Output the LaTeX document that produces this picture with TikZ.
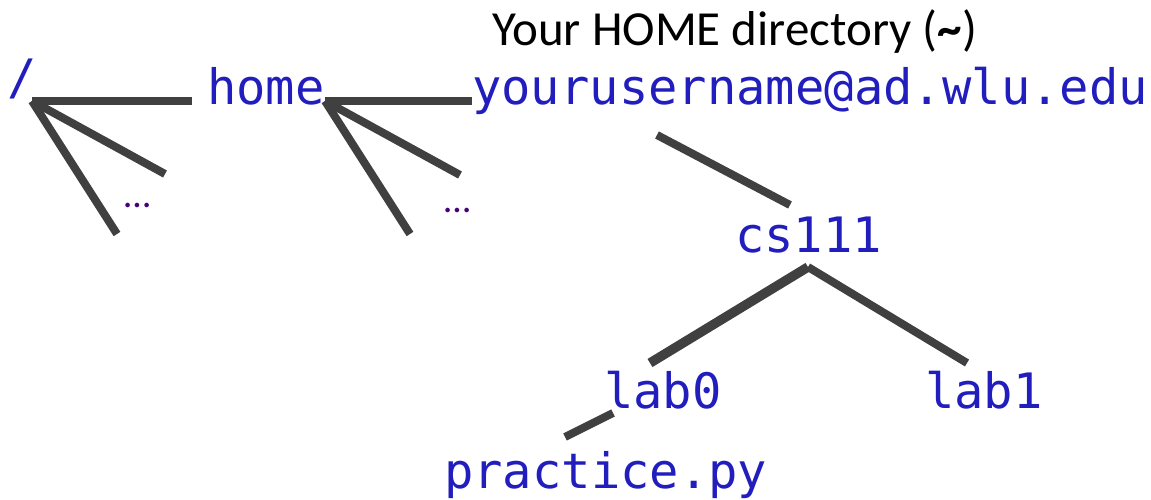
\documentclass[tikz,border=0pt]{standalone}
\usepackage{fontspec}
\setmonofont{DejaVu Sans Mono}
\newfontfamily\calib{Carlito}
\definecolor{txtblue}{RGB}{34,30,190}
\definecolor{dotpurple}{RGB}{70,0,120}
\definecolor{linegray}{RGB}{64,64,64}
\tikzset{
  dirname/.style={inner sep=0pt, anchor=base west, text=txtblue, font=\ttfamily\fontsize{48.8}{58}\selectfont},
  dots/.style={inner sep=0pt, anchor=base west, text=dotpurple, font=\calib\fontsize{38}{44}\selectfont},
  caption/.style={inner sep=0pt, anchor=base west, text=black, font=\calib\fontsize{49}{58}\selectfont},
  branch/.style={draw=linegray, line width=8pt},
  branchthick/.style={draw=linegray, line width=9.5pt}
}
\begin{document}
\begin{tikzpicture}[x=1pt,y=-1pt]
\useasboundingbox (0,0) rectangle (1151,500);
% texts
\node[dirname] (root) at (7,95) {/};
\node[dirname] (home) at (207,105) {home};
\node[dirname] (user) at (472,105) {yourusername@ad.wlu.edu};
\node[caption] (cap) at (492,46) {Your HOME directory (\textbf{\char`~})};
\node[dirname] (cs) at (735,252) {cs111};
\node[dirname] (lab0) at (604,408) {lab0};
\node[dirname] (lab1) at (925,408) {lab1};
\node[dirname] (prac) at (444,488) {practice.py};
\node[dots] (dots1) at (124,207) {\dots};
\node[dots] (dots2) at (444,212) {\dots};
% connector end points
\coordinate (rootj) at (32,101);
\coordinate (rootA) at (192,101);
\coordinate (rootB) at (165,174);
\coordinate (rootC) at (117,234);
\coordinate (homej) at (325,101);
\coordinate (homeA) at (472,101);
\coordinate (homeB) at (460,175);
\coordinate (homeC) at (410,234);
\coordinate (userA) at (657,135);
\coordinate (csA) at (790,205);
\coordinate (csj) at (808,267);
\coordinate (lab0A) at (650,363);
\coordinate (lab1A) at (967,363);
\coordinate (lab0B) at (613,413);
\coordinate (pracA) at (565,437);
% connectors
\draw[branch] (rootj) -- (rootA);
\draw[branch] (rootj) -- (rootB);
\draw[branch] (rootj) -- (rootC);
\draw[branch] (homej) -- (homeA);
\draw[branch] (homej) -- (homeB);
\draw[branch] (homej) -- (homeC);
\draw[branch] (userA) -- (csA);
\draw[branchthick] (csj) -- (lab0A);
\draw[branch] (csj) -- (lab1A);
\draw[branch] (lab0B) -- (pracA);
\end{tikzpicture}
\end{document}
